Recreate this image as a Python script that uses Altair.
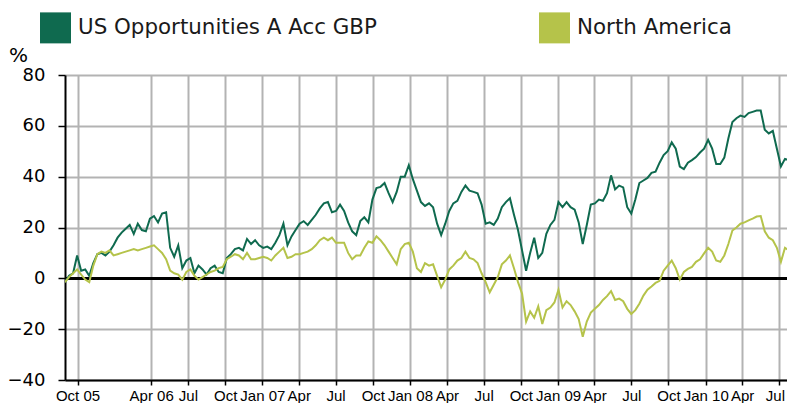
import altair as alt
import pandas as pd

series_names = ["US Opportunities A Acc GBP", "North America"]
series_colors = ["#0f6a4f", "#b5c34a"]

# sampling: every 10 days from 31 Aug 2005
start_date = "2005-08-31"
step_days = 10

fund_values = [
    -1.5, 1, 2, 9, 3, 3.5, 1, 6, 9.5, 10,
    9, 10.5, 13, 16, 18, 19.5, 21, 17.5, 21.5, 19,
    18.5, 23.5, 24.5, 22, 25.5, 26, 12, 8.5, 13, 4,
    7, 8, 2, 5, 3.5, 1.5, 4, 5, 2.5, 2,
    8, 9.5, 11.5, 12, 11, 15.5, 13.5, 15, 13, 12,
    12.5, 11.5, 14, 17, 21.5, 13, 16.5, 19, 21.5, 22.5,
    21, 23, 25, 27.5, 29.5, 30, 26, 26.5, 29, 26.5,
    22, 18.5, 17, 22.5, 24, 22, 31, 35.5, 36, 37.5,
    33.5, 30, 34, 40, 40, 44.5, 39, 34.5, 30, 28.5,
    29.5, 28, 21.5, 17, 21.5, 26.5, 29.5, 30.5, 34, 36.5,
    34.5, 34, 33.5, 29, 21.5, 22, 21, 23.5, 28, 30,
    31.5, 25, 19, 11, 3, 10, 16, 8, 10, 17.5,
    21, 23, 30, 28, 30, 28, 27, 22, 13.5, 21,
    29, 29.5, 31, 30.5, 33.5, 40.5, 35, 36.5, 35.8, 28,
    25.5, 31, 37.5, 38.5, 39.5, 41.5, 42, 45.5, 48.5, 50,
    53.5, 51, 44, 43, 45.5, 46.5, 47.7, 49.5, 51, 54.5,
    51, 45, 45, 47.5, 55, 61.5, 63, 64, 63.5, 65,
    65.5, 66, 66, 58.5, 57, 58, 51, 44, 47, 46.5,
    44.5, 45,
]

index_values = [
    -1.5, 0.5, 2, 3.5, 1.5, -0.5, -1.5, 5, 9.5, 10.5,
    10, 11, 9, 9.5, 10, 10.5, 11, 11.5, 11, 11.5,
    12, 12.5, 13, 11.5, 10, 7.5, 3, 2, 1.5, -0.5,
    2.5, 3.5, 1, -0.5, 0.5, 1.5, 2.5, 3, 4, 4.5,
    7.5, 8.5, 9.5, 9, 7.5, 10, 7.5, 7.5, 8, 8.5,
    8, 7, 9, 10.5, 12, 8, 8.5, 9.5, 9.5, 10,
    10.5, 11.5, 13, 15, 16, 15, 16, 14, 14, 14,
    10, 7.5, 9, 9, 12, 14.5, 14, 16.5, 15, 13,
    10.5, 8, 5.5, 11.5, 13.5, 14, 10.5, 4, 2.5, 6,
    5, 5.5, 1, -3.5, -0.5, 3.5, 5, 7, 8, 10.5,
    8, 7.5, 6, 2, -1.5, -5.5, -2.5, 0.5, 5.5, 7,
    9, 4, -1.5, -6, -17, -13, -15.5, -11, -18, -12.5,
    -11.5, -9.5, -4.5, -11.5, -9, -10.5, -13, -16, -23, -17,
    -13.5, -12, -10.5, -8.5, -7, -5, -8.5, -8, -9, -12,
    -14, -12.5, -10, -6.8, -4.5, -3.2, -1.8, -1, 3, 5,
    7, 4, -0.5, 2.5, 3.7, 4.5, 6.5, 7.5, 9.8, 12,
    10.5, 7, 6.5, 9, 13.5, 18.8, 20, 21.5, 22, 22.8,
    23.5, 24.3, 24.5, 18.5, 16, 15, 12, 6.5, 12, 11,
    10.5, 10.5,
]

tick_dates = [
    "2005-10-01", "2006-04-01", "2006-07-01", "2006-10-01",
    "2007-01-01", "2007-04-01", "2007-07-01", "2007-10-01",
    "2008-01-01", "2008-04-01", "2008-07-01", "2008-10-01",
    "2009-01-01", "2009-04-01", "2009-07-01", "2009-10-01",
    "2010-01-01", "2010-04-01", "2010-07-01",
]
tick_labels = [
    "Oct 05", "Apr 06", "Jul", "Oct",
    "Jan 07", "Apr", "Jul", "Oct",
    "Jan 08", "Apr", "Jul", "Oct",
    "Jan 09", "Apr", "Jul", "Oct",
    "Jan 10", "Apr", "Jul",
]
y_ticks = [-40, -20, 0, 20, 40, 60, 80]
x_domain = ["2005-08-31", "2010-07-21"]

# ---- build table ----
dates = pd.date_range(start_date, periods=len(fund_values), freq=f"{step_days}D").strftime("%Y-%m-%d")
df = pd.concat([
    pd.DataFrame({"date": dates, "value": fund_values, "series": series_names[0]}),
    pd.DataFrame({"date": dates, "value": index_values, "series": series_names[1]}),
], ignore_index=True)


def to_ms(s):
    return int(pd.Timestamp(s).value // 10**6)


tick_ms = [to_ms(d) for d in tick_dates]
label_expr = "".join(
    f"utcFormat(datum.value, '%Y-%m') == '{d[:7]}' ? '{l}' : " for d, l in zip(tick_dates, tick_labels)
) + "''"
last_tick_test = f"utcFormat(datum.value, '%Y-%m') == '{tick_dates[-1][:7]}'"

grid_color = "#b3b3b3"

x_enc = alt.X(
    "date:T",
    scale=alt.Scale(type="utc", domain=[to_ms(x_domain[0]), to_ms(x_domain[1])]),
    axis=alt.Axis(
        values=tick_ms, labelExpr=label_expr, title=None,
        grid=True, gridColor=grid_color, gridWidth=2,
        domainColor="black", domainWidth=2,
        tickColor="black", tickWidth=1.5, tickSize=5,
        labelFont="Liberation Sans", labelFontSize=15, labelColor="#000",
        labelPadding=3, labelAngle=0, labelOverlap=False, labelFlush=False,
        labelOffset={"condition": {"test": last_tick_test, "value": -4}, "value": 0},
    ),
)
y_enc = alt.Y(
    "value:Q",
    scale=alt.Scale(domain=[-40, 80], nice=False, zero=False),
    axis=alt.Axis(
        values=y_ticks, grid=True, gridColor=grid_color, gridWidth=2,
        domainColor="black", domainWidth=2,
        tickColor="black", tickWidth=1.5, tickSize=7,
        labelFont="DejaVu Sans", labelFontSize=18, labelColor="#000", labelPadding=13,
        title="%", titleAngle=0, titleX=-47, titleY=-14, titleAlign="center",
        titleBaseline="alphabetic", titleFont="DejaVu Sans", titleFontSize=20,
        titleFontWeight="normal", titleColor="#000",
    ),
)

color_enc = alt.Color(
    "series:N",
    scale=alt.Scale(domain=series_names, range=series_colors),
    legend=alt.Legend(
        title=None, orient="none", legendX=-25, legendY=-63, direction="horizontal",
        symbolType="square", symbolSize=240, symbolStrokeWidth=15.5,
        labelFont="DejaVu Sans", labelFontSize=21.4, labelColor="#1a1a1a",
        labelOffset=7, columnPadding=138, padding=0, labelLimit=0,
    ),
)

zero_rule = alt.Chart(df).mark_rule(color="black", strokeWidth=2).encode(y=alt.datum(0))

lines = alt.Chart(df).mark_line(clip=True).encode(
    x=x_enc, y=y_enc, color=color_enc, order="date:T"
)

chart = alt.layer(zero_rule, lines).properties(
    width=722, height=305,
    autosize=alt.AutoSizeParams(type="none"),
    padding={"left": 57, "top": 67, "right": 0, "bottom": 25},
).configure_view(strokeWidth=0)

chart.save("out.html", embed_options={"renderer": "svg", "actions": False})
